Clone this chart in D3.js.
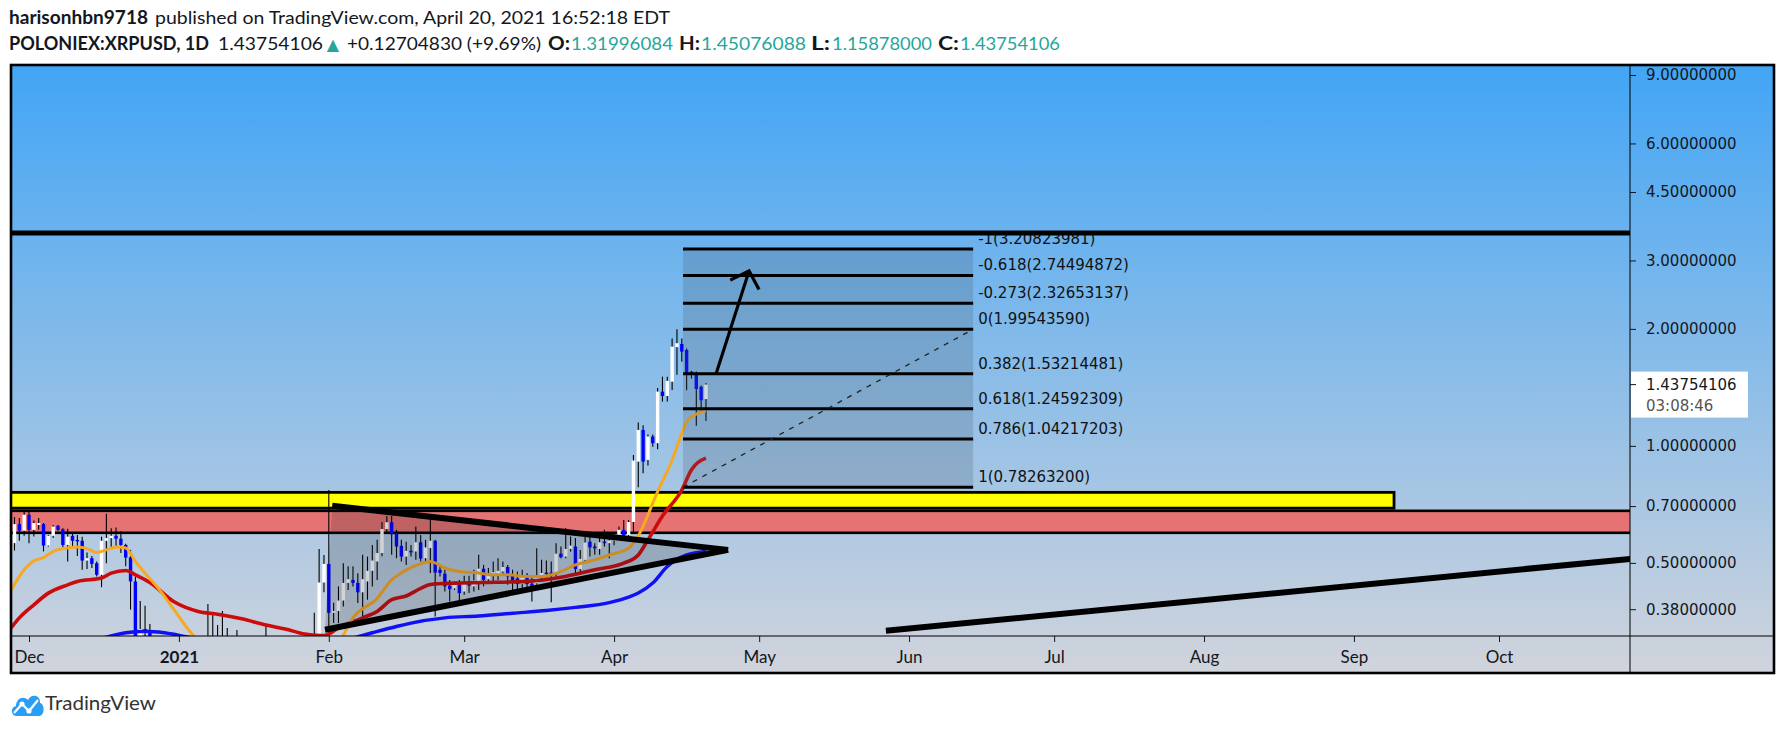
<!DOCTYPE html>
<html>
<head>
<meta charset="utf-8">
<script src="https://cdn.jsdelivr.net/npm/d3@7"></script>
<style>
  body { margin: 0; background: #fff; }
  svg { display: block; }
</style>
</head>
<body>
<svg id="chart" width="1783" height="731"></svg>
<script>

// ---------------- data ----------------

// header texts
var publisher = "harisonhbn9718",
    publishedText = "published on TradingView.com, April 20, 2021 16:52:18 EDT",
    symbolText = "POLONIEX:XRPUSD, 1D",
    lastPriceText = "1.43754106",
    changeText = "+0.12704830 (+9.69%)",
    ohlcKeys = ["O:", "H:", "L:", "C:"],
    ohlcVals = ["1.31996084", "1.45076088", "1.15878000", "1.43754106"],
    countdown = "03:08:46";

// daily candles [open, high, low, close], first one is 2020-11-27
var firstDay = "2020-11-27";
var candles = [
  [0.535,0.570,0.520,0.562],[0.562,0.656,0.538,0.629],[0.629,0.652,0.570,0.605],[0.605,0.678,0.587,0.665],
  // Dec
  [0.665,0.678,0.562,0.608],[0.608,0.643,0.585,0.633],[0.626,0.652,0.608,0.633],[0.629,0.633,0.535,0.554],
  [0.554,0.590,0.551,0.587],[0.587,0.626,0.579,0.620],[0.623,0.626,0.605,0.608],[0.610,0.614,0.549,0.556],
  [0.556,0.612,0.504,0.584],[0.587,0.596,0.551,0.570],[0.573,0.590,0.521,0.568],[0.570,0.584,0.480,0.507],
  [0.507,0.532,0.482,0.514],[0.514,0.521,0.485,0.497],[0.499,0.504,0.461,0.466],[0.466,0.584,0.433,0.570],
  [0.570,0.669,0.499,0.579],[0.579,0.614,0.546,0.587],[0.587,0.617,0.546,0.577],[0.577,0.603,0.530,0.556],
  [0.556,0.560,0.490,0.516],[0.517,0.540,0.379,0.448],[0.448,0.460,0.210,0.290],[0.290,0.399,0.270,0.338],
  [0.338,0.388,0.290,0.330],[0.330,0.348,0.300,0.310],[0.310,0.320,0.270,0.280],[0.280,0.300,0.220,0.230],
  [0.230,0.240,0.180,0.200],[0.200,0.220,0.180,0.210],[0.210,0.230,0.200,0.220],
  // Jan
  [0.220,0.240,0.210,0.235],[0.235,0.240,0.210,0.220],[0.220,0.240,0.210,0.225],[0.225,0.250,0.210,0.240],
  [0.240,0.250,0.220,0.226],[0.226,0.260,0.220,0.250],[0.250,0.392,0.250,0.320],[0.320,0.368,0.270,0.315],
  [0.315,0.346,0.290,0.310],[0.310,0.376,0.280,0.290],[0.290,0.340,0.240,0.270],[0.270,0.310,0.260,0.290],
  [0.290,0.336,0.270,0.300],[0.300,0.320,0.280,0.305],[0.305,0.310,0.270,0.285],[0.285,0.300,0.270,0.280],
  [0.280,0.290,0.265,0.280],[0.280,0.290,0.270,0.285],[0.285,0.345,0.280,0.290],[0.290,0.300,0.260,0.280],
  [0.280,0.285,0.240,0.250],[0.250,0.270,0.230,0.265],[0.265,0.275,0.260,0.270],[0.270,0.280,0.265,0.270],
  [0.270,0.290,0.260,0.265],[0.265,0.270,0.250,0.260],[0.260,0.270,0.245,0.255],[0.255,0.270,0.250,0.265],
  [0.265,0.372,0.260,0.320],[0.320,0.543,0.310,0.445],[0.445,0.524,0.420,0.497],
  // Feb
  [0.497,0.770,0.330,0.372],[0.372,0.395,0.350,0.376],[0.376,0.435,0.350,0.400],[0.400,0.499,0.386,0.444],
  [0.444,0.490,0.426,0.454],[0.452,0.490,0.435,0.444],[0.444,0.470,0.394,0.420],[0.420,0.525,0.364,0.454],
  [0.448,0.519,0.402,0.477],[0.477,0.556,0.435,0.507],[0.504,0.573,0.452,0.530],[0.530,0.637,0.520,0.611],
  [0.611,0.660,0.596,0.636],[0.636,0.660,0.525,0.592],[0.596,0.608,0.514,0.551],[0.553,0.573,0.504,0.519],
  [0.519,0.567,0.494,0.537],[0.537,0.556,0.519,0.532],[0.535,0.620,0.509,0.565],[0.565,0.590,0.504,0.513],
  [0.514,0.573,0.504,0.548],[0.546,0.663,0.471,0.570],[0.570,0.573,0.364,0.472],[0.480,0.490,0.461,0.471],
  [0.469,0.480,0.422,0.435],[0.437,0.452,0.398,0.428],[0.430,0.448,0.426,0.439],[0.439,0.452,0.398,0.418],
  // Mar
  [0.422,0.463,0.414,0.445],[0.449,0.463,0.418,0.437],[0.435,0.480,0.422,0.450],[0.448,0.525,0.426,0.483],
  [0.483,0.494,0.435,0.452],[0.454,0.485,0.444,0.467],[0.465,0.504,0.448,0.473],[0.468,0.514,0.452,0.477],
  [0.475,0.504,0.466,0.488],[0.488,0.494,0.439,0.461],[0.463,0.480,0.426,0.449],[0.456,0.475,0.426,0.441],
  [0.441,0.480,0.426,0.460],[0.460,0.471,0.426,0.441],[0.442,0.460,0.398,0.435],[0.443,0.545,0.439,0.460],
  [0.463,0.509,0.452,0.471],[0.472,0.507,0.452,0.468],[0.472,0.504,0.396,0.468],[0.469,0.562,0.461,0.528],
  [0.528,0.551,0.514,0.517],[0.519,0.615,0.514,0.543],[0.543,0.585,0.535,0.554],[0.551,0.579,0.471,0.482],
  [0.482,0.540,0.471,0.512],[0.509,0.585,0.504,0.564],[0.567,0.596,0.519,0.548],[0.551,0.562,0.525,0.545],
  [0.543,0.596,0.525,0.565],[0.567,0.608,0.551,0.562],[0.562,0.579,0.514,0.571],
  // Apr
  [0.571,0.600,0.555,0.590],[0.590,0.620,0.585,0.608],[0.608,0.645,0.584,0.587],[0.590,0.645,0.585,0.637],
  [0.637,0.948,0.600,0.917],[0.911,1.148,0.7826,1.099],[1.099,1.130,0.850,0.911],[0.920,1.070,0.890,1.057],
  [1.057,1.070,0.995,1.016],[1.016,1.410,0.980,1.379],[1.379,1.507,1.300,1.344],[1.344,1.507,1.300,1.470],
  [1.463,1.890,1.393,1.800],[1.795,1.9954,1.523,1.837],[1.829,1.890,1.647,1.748],[1.765,1.780,1.390,1.538],
  [1.553,1.560,1.490,1.538],[1.523,1.553,1.126,1.401],[1.420,1.430,1.232,1.3105],
  [1.31996084,1.45076088,1.15878,1.43754106]
];

// moving averages [date, value]
var maFast = [
  ["2020-11-27",0.419],["2020-11-30",0.48],["2020-12-02",0.506],["2020-12-04",0.516],["2020-12-06",0.535],
  ["2020-12-08",0.544],["2020-12-11",0.549],["2020-12-13",0.544],["2020-12-15",0.532],["2020-12-17",0.54],
  ["2020-12-19",0.549],["2020-12-21",0.546],["2020-12-23",0.504],["2020-12-25",0.4705],["2020-12-28",0.426],
  ["2020-12-31",0.379],["2021-01-03",0.3365],["2021-01-08",0.29],["2021-01-15",0.27],["2021-01-22",0.268],
  ["2021-01-28",0.272],["2021-02-03",0.31],["2021-02-06",0.361],["2021-02-11",0.405],["2021-02-14",0.452],
  ["2021-02-16",0.471],["2021-02-18",0.486],["2021-02-22",0.504],["2021-02-25",0.485],["2021-02-28",0.475],
  ["2021-03-03",0.472],["2021-03-07",0.466],["2021-03-10",0.466],["2021-03-14",0.461],["2021-03-17",0.461],
  ["2021-03-21",0.475],["2021-03-24",0.494],["2021-03-28",0.509],["2021-03-31",0.524],["2021-04-04",0.545],
  ["2021-04-06",0.587],["2021-04-10",0.763],["2021-04-13",0.92],["2021-04-15",1.078],["2021-04-16",1.155],
  ["2021-04-18",1.208],["2021-04-20",1.232]
];
var maMid = [
  ["2020-11-27",0.3365],["2020-11-29",0.361],["2020-12-02",0.39],["2020-12-05",0.418],["2020-12-09",0.439],
  ["2020-12-11",0.448],["2020-12-16",0.457],["2020-12-18",0.4705],["2020-12-21",0.478],["2020-12-23",0.466],
  ["2020-12-26",0.445],["2020-12-31",0.397],["2021-01-05",0.375],["2021-01-09",0.369],["2021-01-14",0.359],
  ["2021-01-19",0.346],["2021-01-23",0.338],["2021-01-27",0.328],["2021-01-31",0.325],["2021-02-03",0.34],
  ["2021-02-08",0.361],["2021-02-11",0.375],["2021-02-14",0.402],["2021-02-17",0.411],["2021-02-20",0.43],
  ["2021-02-22",0.44],["2021-02-27",0.4435],["2021-03-05",0.445],["2021-03-14",0.448],["2021-03-21",0.459],
  ["2021-03-28",0.48],["2021-04-03",0.499],["2021-04-06",0.524],["2021-04-08",0.573],["2021-04-11",0.66],
  ["2021-04-15",0.77],["2021-04-17",0.868],["2021-04-20",0.93]
];
var maSlow = [
  ["2020-11-27",0.27],["2020-12-10",0.30],["2020-12-17",0.322],["2020-12-21",0.3305],["2020-12-25",0.3335],
  ["2020-12-29",0.3305],["2021-01-03",0.322],["2021-01-15",0.31],["2021-01-28",0.31],["2021-02-05",0.318],
  ["2021-02-10",0.3305],["2021-02-15",0.343],["2021-02-18",0.35],["2021-02-25",0.361],["2021-03-04",0.365],
  ["2021-03-11",0.371],["2021-03-18",0.377],["2021-03-24",0.384],["2021-03-31",0.395],["2021-04-04",0.408],
  ["2021-04-06",0.418],["2021-04-09",0.4435],["2021-04-12",0.4895],["2021-04-16",0.524],["2021-04-20",0.535]
];

// drawings
var resistancePrice = 3.53;
var yellowZoneDates = ["2020-11-01", "2021-09-09T07:00Z"],
    yellowZonePrices = [0.7593, 0.6915];
var redZoneDates = ["2020-11-01", "2021-12-31"],
    redZonePrices = [0.6806, 0.5975];
var triangle = [["2021-02-01T17:00Z",0.701],["2021-04-24T14:00Z",0.540],["2021-01-31T05:00Z",0.3365]];
var supportLine = [["2021-05-27T05:00Z",0.3345],["2021-10-28T03:00Z",0.512]];
var fibDates = ["2021-04-15T06:00Z", "2021-06-14T06:00Z"];
var fibRatios = [-1, -0.618, -0.273, 0, 0.382, 0.618, 0.786, 1];
var fibPrices = [3.20823981, 2.74494872, 2.32653137, 1.99543590, 1.53214481, 1.24592309, 1.04217203, 0.78263200];
var arrowPts = [["2021-04-22T02:00Z",1.532],["2021-04-28T22:00Z",2.82]];

// axes
var priceTicks = [9, 6, 4.5, 3, 2, 1, 0.7, 0.5, 0.38];
var timeLabels = ["Dec","2021","Feb","Mar","Apr","May","Jun","Jul","Aug","Sep","Oct"];


// ---------------- layout ----------------

var plot = { left: 11, top: 65, right: 1630, bottom: 636 },
    frameRight = 1774, frameBottom = 673;

var svg = d3.select('#chart');
var defs = svg.append('defs');

var grad = defs.append('linearGradient').attr('id','bg')
    .attr('gradientUnits','userSpaceOnUse')
    .attr('x1',0).attr('y1',plot.top).attr('x2',0).attr('y2',frameBottom);
grad.append('stop').attr('offset',0).attr('stop-color','#42a5f5');
grad.append('stop').attr('offset',1).attr('stop-color','#d1d4dc');

defs.append('clipPath').attr('id','clip').append('rect')
    .attr('x',plot.left).attr('y',plot.top)
    .attr('width',plot.right-plot.left).attr('height',plot.bottom-plot.top);

// scales
var x = d3.scaleUtc()
    .domain([new Date("2020-12-01"), new Date("2021-10-01")])
    .range([29, 1499]);
var y = d3.scaleLog()
    .domain([0.38, 9])
    .range([609.2, 75]);

function px(d) { return x(new Date(d)); }

// background
svg.append('rect')
    .attr('x',plot.left).attr('y',plot.top)
    .attr('width',frameRight-plot.left).attr('height',frameBottom-plot.top)
    .attr('fill','url(#bg)');

var g = svg.append('g').attr('clip-path','url(#clip)');

//************ ZONES ************
g.append('rect')
    .attr('x', px(redZoneDates[0])).attr('y', y(redZonePrices[0]))
    .attr('width', px(redZoneDates[1]) - px(redZoneDates[0]))
    .attr('height', y(redZonePrices[1]) - y(redZonePrices[0]))
    .attr('fill','#e57373').attr('stroke','#000').attr('stroke-width',2.6);
g.append('rect')
    .attr('x', px(yellowZoneDates[0])).attr('y', y(yellowZonePrices[0]))
    .attr('width', px(yellowZoneDates[1]) - px(yellowZoneDates[0]))
    .attr('height', y(yellowZonePrices[1]) - y(yellowZonePrices[0]))
    .attr('fill','#ffff00').attr('stroke','#000').attr('stroke-width',2.8);

//************ CANDLES ************
var day0 = new Date(firstDay);
var bars = candles.map(function(c,i) {
  return { date: d3.utcDay.offset(day0, i), o: c[0], h: c[1], l: c[2], c: c[3] };
});
var bw = 3.4;
var cg = g.append('g');
cg.selectAll('line.wick').data(bars).enter().append('line')
    .attr('class','wick')
    .attr('x1', function(d){ return x(d.date); })
    .attr('x2', function(d){ return x(d.date); })
    .attr('y1', function(d){ return y(d.h); })
    .attr('y2', function(d){ return y(d.l); })
    .attr('stroke','#000').attr('stroke-width',1.1);
cg.selectAll('rect.body').data(bars).enter().append('rect')
    .attr('class','body')
    .attr('x', function(d){ return x(d.date) - bw/2; })
    .attr('y', function(d){ return y(Math.max(d.o,d.c)); })
    .attr('width', bw)
    .attr('height', function(d){ return Math.max(1.2, Math.abs(y(d.o) - y(d.c))); })
    .attr('fill', function(d){ return d.c >= d.o ? '#ffffff' : '#0000ff'; });

//************ MOVING AVERAGES ************
var maLine = d3.line()
    .x(function(d){ return px(d[0]); })
    .y(function(d){ return y(d[1]); })
    .curve(d3.curveMonotoneX);
g.append('path').datum(maSlow).attr('d', maLine)
    .attr('fill','none').attr('stroke','#1010f5').attr('stroke-width',3.4);
g.append('path').datum(maMid).attr('d', maLine)
    .attr('fill','none').attr('stroke','#cc0c0c').attr('stroke-width',3.6);
g.append('path').datum(maFast).attr('d', maLine)
    .attr('fill','none').attr('stroke','#f7a823').attr('stroke-width',3);

//************ TRIANGLE ************
g.append('path')
    .attr('d', 'M' + triangle.map(function(p){ return px(p[0]) + ',' + y(p[1]); }).join('L') + 'Z')
    .attr('fill','rgba(20,25,35,0.19)');
[[0,1],[2,1]].forEach(function(s) {
  g.append('line')
      .attr('x1', px(triangle[s[0]][0])).attr('y1', y(triangle[s[0]][1]))
      .attr('x2', px(triangle[s[1]][0])).attr('y2', y(triangle[s[1]][1]))
      .attr('stroke','#000').attr('stroke-width',6).attr('stroke-linecap','butt');
});

// long support line
g.append('line')
    .attr('x1', px(supportLine[0][0])).attr('y1', y(supportLine[0][1]))
    .attr('x2', px(supportLine[1][0])).attr('y2', y(supportLine[1][1]))
    .attr('stroke','#000').attr('stroke-width',6);

//************ FIB ************
var fx0 = px(fibDates[0]), fx1 = px(fibDates[1]);
g.append('rect')
    .attr('x', fx0).attr('y', y(d3.max(fibPrices)))
    .attr('width', fx1 - fx0)
    .attr('height', y(d3.min(fibPrices)) - y(d3.max(fibPrices)))
    .attr('fill','rgba(70,85,105,0.22)');
g.selectAll('line.fib').data(fibPrices).enter().append('line')
    .attr('class','fib')
    .attr('x1', fx0).attr('x2', fx1)
    .attr('y1', function(d){ return y(d); })
    .attr('y2', function(d){ return y(d); })
    .attr('stroke','#000').attr('stroke-width',3);
g.selectAll('text.fib').data(fibPrices).enter().append('text')
    .attr('class','fib')
    .attr('x', fx1 + 5)
    .attr('y', function(d){ return y(d) - 5; })
    .attr('font-family','DejaVu Sans').attr('font-size',15).attr('fill','#111')
    .text(function(d,i){ return fibRatios[i] + '(' + d.toFixed(8) + ')'; });
// diagonal from level 1 to level 0
g.append('line')
    .attr('x1', fx0).attr('y1', y(fibPrices[fibRatios.indexOf(1)]))
    .attr('x2', fx1).attr('y2', y(fibPrices[fibRatios.indexOf(0)]))
    .attr('stroke','#222').attr('stroke-width',1.3).attr('stroke-dasharray','5,6');

//************ ARROW ************
var ax0 = px(arrowPts[0][0]), ay0 = y(arrowPts[0][1]),
    ax1 = px(arrowPts[1][0]), ay1 = y(arrowPts[1][1]);
var ang = Math.atan2(ay0 - ay1, ax0 - ax1), wing = 21, spread = 46 * Math.PI / 180;
g.append('path')
    .attr('d', 'M' + ax0 + ',' + ay0 + 'L' + ax1 + ',' + ay1 +
        'M' + (ax1 + wing*Math.cos(ang+spread)) + ',' + (ay1 + wing*Math.sin(ang+spread)) +
        'L' + ax1 + ',' + ay1 +
        'L' + (ax1 + wing*Math.cos(ang-spread)) + ',' + (ay1 + wing*Math.sin(ang-spread)))
    .attr('fill','none').attr('stroke','#000').attr('stroke-width',3.2)
    .attr('stroke-linejoin','miter');

// resistance line
g.append('line')
    .attr('x1', plot.left).attr('x2', plot.right)
    .attr('y1', y(resistancePrice)).attr('y2', y(resistancePrice))
    .attr('stroke','#000').attr('stroke-width',5);


//************ AXES ************
var yAxis = d3.axisRight(y)
    .tickValues(priceTicks)
    .tickFormat(function(d){ return d.toFixed(8); })
    .tickSize(6).tickPadding(10);
var ya = svg.append('g').attr('transform','translate(' + plot.right + ',0)').call(yAxis);
ya.select('.domain').remove();
ya.attr('font-family','DejaVu Sans').attr('font-size',15).attr('color','#131722');

var monthTicks = d3.utcMonth.range(new Date("2020-12-01"), new Date("2021-10-02"));
var xAxis = d3.axisBottom(x)
    .tickValues(monthTicks)
    .tickFormat(function(d,i){ return timeLabels[i]; })
    .tickSize(6).tickPadding(9);
var xa = svg.append('g').attr('transform','translate(0,' + plot.bottom + ')').call(xAxis);
xa.select('.domain').remove();
xa.attr('font-family','Lato').attr('font-size',17).attr('color','#131722');
xa.selectAll('text').attr('font-weight', function(d,i){ return timeLabels[i] === '2021' ? 700 : 400; });

// frame lines
svg.append('line').attr('x1',plot.left).attr('x2',frameRight)
    .attr('y1',plot.bottom).attr('y2',plot.bottom).attr('stroke','#000').attr('stroke-width',1);
svg.append('line').attr('x1',plot.right).attr('x2',plot.right)
    .attr('y1',plot.top).attr('y2',frameBottom).attr('stroke','#000').attr('stroke-width',1);
svg.append('rect').attr('x',plot.left).attr('y',plot.top)
    .attr('width',frameRight-plot.left).attr('height',frameBottom-plot.top)
    .attr('fill','none').attr('stroke','#000').attr('stroke-width',2.6);

// last price label
var lastClose = candles[candles.length-1][3];
var ly = y(lastClose);
svg.append('rect').attr('x',plot.right+1).attr('y',ly-13).attr('width',117).attr('height',46).attr('fill','#fff');
svg.append('line').attr('x1',plot.right).attr('x2',plot.right+6).attr('y1',ly).attr('y2',ly)
    .attr('stroke','#131722');
svg.append('text').attr('x',plot.right+16).attr('y',ly+5.5)
    .attr('font-family','DejaVu Sans').attr('font-size',15).attr('fill','#131722').text(lastPriceText);
svg.append('text').attr('x',plot.right+16).attr('y',ly+26)
    .attr('font-family','DejaVu Sans').attr('font-size',15).attr('fill','#555').text(countdown);


//************ HEADER ************
var dark = '#131722', teal = '#26a69a';
function seg(text, xPos, w, yPos, bold, color) {
  svg.append('text')
      .attr('x', xPos).attr('y', yPos)
      .attr('font-family','Lato').attr('font-size',18)
      .attr('font-weight', bold ? 700 : 400)
      .attr('fill', color)
      .attr('textLength', w).attr('lengthAdjust','spacingAndGlyphs')
      .text(text);
}
seg(publisher, 9, 139, 24, true, dark);
seg(publishedText, 155, 515, 24, false, dark);
seg(symbolText, 9, 200, 50, true, dark);
seg(lastPriceText, 218, 105, 50, false, dark);
svg.append('text').attr('x',333).attr('y',50).attr('text-anchor','middle')
    .attr('font-family','DejaVu Sans').attr('font-size',16).attr('fill',teal).text('\u25B2');
seg(changeText, 347, 194, 50, false, dark);
var keyX = [548, 679, 811, 938], keyW = [22, 21, 19, 21],
    valX = [571, 701, 832, 960], valW = [102, 105, 100, 100];
ohlcKeys.forEach(function(k,i) {
  seg(k, keyX[i], keyW[i], 50, true, dark);
  seg(ohlcVals[i], valX[i], valW[i], 50, false, teal);
});

//************ LOGO ************
var logo = svg.append('g').attr('transform','translate(11,692)');
logo.append('path')
    .attr('d','M5,24 C0,24 -1,15 5,14 C5,7 12,3 17,8 C20,1 30,3 29,11 C34,12 34,24 28,24 Z')
    .attr('fill','#2a9df4');
logo.append('path').attr('d','M3,21 L11,12 L18,19 L27,8')
    .attr('fill','none').attr('stroke','#fff').attr('stroke-width',2.2);
[[11,12],[18,19]].forEach(function(p){
  logo.append('circle').attr('cx',p[0]).attr('cy',p[1]).attr('r',2.6).attr('fill','#fff');
});
svg.append('text').attr('x',45).attr('y',710)
    .attr('font-family','Lato').attr('font-size',20).attr('fill','#333')
    .attr('textLength',111).attr('lengthAdjust','spacingAndGlyphs')
    .text('TradingView');

</script>
</body>
</html>
